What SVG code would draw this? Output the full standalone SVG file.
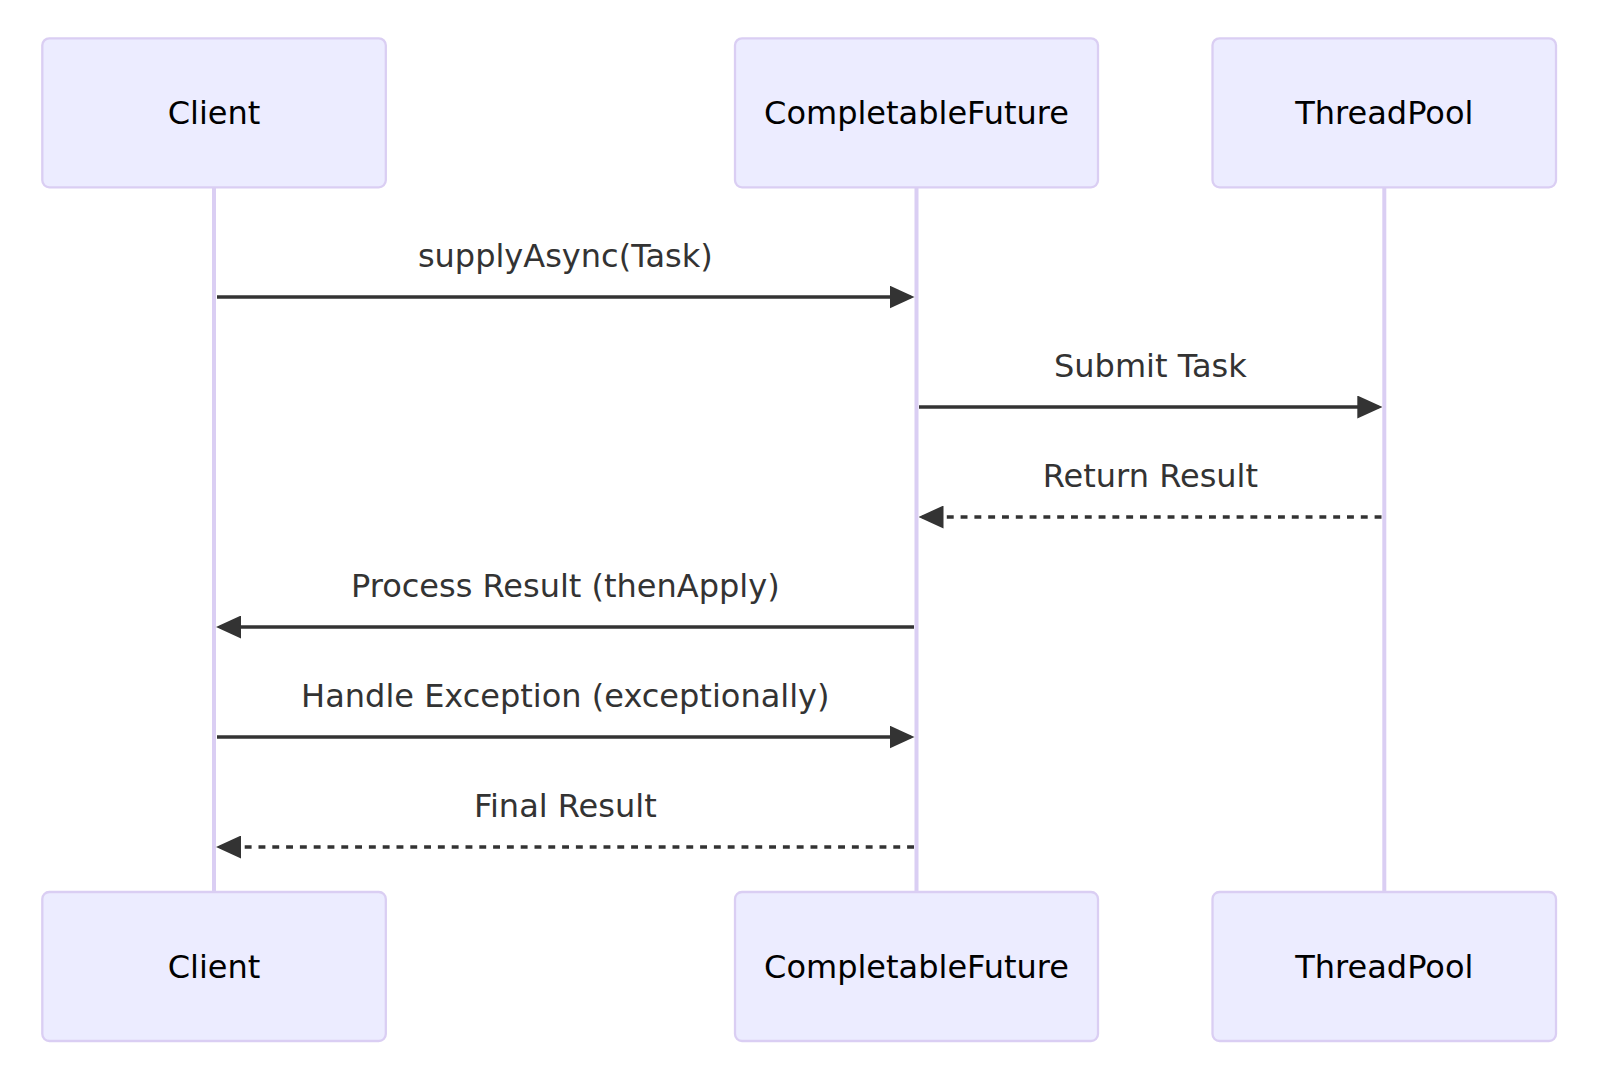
<svg xmlns="http://www.w3.org/2000/svg" width="1602" height="1090" viewBox="0 0 1602 1090">
<style>
.actor{fill:#ECECFF;stroke:#DACEF3;stroke-width:2.3}
.actor-text{font-family:"DejaVu Sans",Verdana,sans-serif;font-size:32px;fill:#000;text-anchor:middle;dominant-baseline:central}
.lifeline{stroke:#DACEF3;stroke-width:4}
.msg{stroke:#333;stroke-width:3.4;fill:none}
.dashed{stroke-dasharray:6.9 6.9}
.msg-text{font-family:"DejaVu Sans",Verdana,sans-serif;font-size:32px;fill:#333;text-anchor:middle}
</style>
<defs>
<marker id="arrowhead" markerUnits="userSpaceOnUse" viewBox="0 0 25 23" refX="21" refY="11.5" markerWidth="25" markerHeight="23" orient="auto">
<path d="M0,0 L25,11.5 L0,23 z" fill="#333"/>
</marker>
</defs>
<rect width="1602" height="1090" fill="#fff"/>
<g id="lifelines">
<line class="lifeline" x1="214" y1="188" x2="214" y2="892"/>
<line class="lifeline" x1="916.5" y1="188" x2="916.5" y2="892"/>
<line class="lifeline" x1="1384.3" y1="188" x2="1384.3" y2="892"/>
</g>
<g id="actor-client-top"><rect class="actor" x="42.3" y="38.3" width="343.5" height="149" rx="7"/><text class="actor-text" x="214" y="112.8">Client</text></g>
<g id="actor-cf-top"><rect class="actor" x="735" y="38.3" width="363" height="149" rx="7"/><text class="actor-text" x="916.5" y="112.8">CompletableFuture</text></g>
<g id="actor-tp-top"><rect class="actor" x="1212.5" y="38.3" width="343.5" height="149" rx="7"/><text class="actor-text" x="1384.3" y="112.8">ThreadPool</text></g>
<g id="actor-client-bottom"><rect class="actor" x="42.3" y="892" width="343.5" height="149" rx="7"/><text class="actor-text" x="214" y="966.5">Client</text></g>
<g id="actor-cf-bottom"><rect class="actor" x="735" y="892" width="363" height="149" rx="7"/><text class="actor-text" x="916.5" y="966.5">CompletableFuture</text></g>
<g id="actor-tp-bottom"><rect class="actor" x="1212.5" y="892" width="343.5" height="149" rx="7"/><text class="actor-text" x="1384.3" y="966.5">ThreadPool</text></g>
<g id="messages">
<text class="msg-text" x="565.3" y="267">supplyAsync(Task)</text>
<line class="msg" x1="217" y1="297" x2="910.5" y2="297" marker-end="url(#arrowhead)"/>
<text class="msg-text" x="1150.4" y="377">Submit Task</text>
<line class="msg" x1="919" y1="407" x2="1378.3" y2="407" marker-end="url(#arrowhead)"/>
<text class="msg-text" x="1150.4" y="487">Return Result</text>
<line class="msg dashed" x1="1381.5" y1="517" x2="922.5" y2="517" marker-end="url(#arrowhead)"/>
<text class="msg-text" x="565.3" y="597">Process Result (thenApply)</text>
<line class="msg" x1="914" y1="627" x2="220" y2="627" marker-end="url(#arrowhead)"/>
<text class="msg-text" x="565.3" y="707">Handle Exception (exceptionally)</text>
<line class="msg" x1="217" y1="737" x2="910.5" y2="737" marker-end="url(#arrowhead)"/>
<text class="msg-text" x="565.3" y="817">Final Result</text>
<line class="msg dashed" x1="914" y1="847" x2="220" y2="847" marker-end="url(#arrowhead)"/>
</g>
</svg>
